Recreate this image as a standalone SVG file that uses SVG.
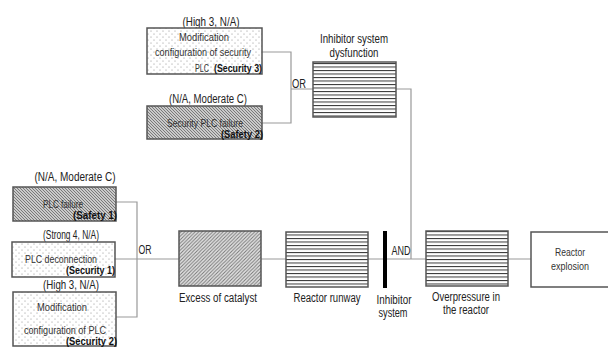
<svg xmlns="http://www.w3.org/2000/svg" width="608" height="347" viewBox="0 0 608 347">
<style>
text{font-family:"Liberation Sans",Arial,sans-serif}
.t{font-size:12px;fill:#222;text-anchor:middle}
.s{font-size:10.5px;fill:#333;text-anchor:middle}
.b{font-size:11.5px;font-weight:bold;fill:#111;text-anchor:start}
.box{stroke:#555;stroke-width:1.5}
.c{stroke:#999;stroke-width:1.2;fill:none}
</style>
<defs>
<pattern id="dots" width="6" height="6" patternUnits="userSpaceOnUse">
<rect width="6" height="6" fill="#fff"/>
<circle cx="1" cy="1" r="0.55" fill="#888"/>
<circle cx="4" cy="4" r="0.55" fill="#888"/>
</pattern>
<pattern id="back" width="3" height="3" patternUnits="userSpaceOnUse">
<rect width="3" height="3" fill="#cacaca"/>
<path d="M-1,-1 L4,4 M-1,2 L1,4 M2,-1 L4,1" stroke="#6a6a6a" stroke-width="0.85"/>
</pattern>
<pattern id="fwd" width="3.5" height="3.5" patternUnits="userSpaceOnUse">
<rect width="3.5" height="3.5" fill="#e4e4e4"/>
<path d="M-1,4.5 L4.5,-1 M-1,1 L1,-1 M2.5,4.5 L4.5,2.5" stroke="#777" stroke-width="1"/>
</pattern>
<pattern id="hl" width="10" height="3.5" patternUnits="userSpaceOnUse">
<rect width="10" height="3.5" fill="#fff"/>
<rect y="0" width="10" height="1" fill="#333"/>
</pattern>
</defs>

<g id="connectors">
<path class="c" d="M262,52 H291 V123 H262 M291,89 H313"/>
<path class="c" d="M396,89 H411 V259"/>
<path class="c" d="M116,202 H137 V317 H116 M115,259 H179"/>
<path class="c" d="M261,259 H286 M368,259 H426 M508,259 H531"/>
<text class="t" x="299" y="88" textLength="14" lengthAdjust="spacingAndGlyphs">OR</text>
<text class="t" x="145" y="254" textLength="13" lengthAdjust="spacingAndGlyphs">OR</text>
<text class="t" x="401" y="255" textLength="19" lengthAdjust="spacingAndGlyphs">AND</text>
</g>

<g id="mod-sec-plc">
<text class="t" x="211" y="26" textLength="57" lengthAdjust="spacingAndGlyphs">(High 3, N/A)</text>
<rect class="box" x="147" y="28" width="115" height="46" fill="url(#dots)"/>
<text class="s" x="204" y="41" textLength="50" lengthAdjust="spacingAndGlyphs">Modification</text>
<text class="s" x="203" y="56" textLength="96" lengthAdjust="spacingAndGlyphs">configuration of security</text>
<text class="s" x="202" y="72" textLength="14" lengthAdjust="spacingAndGlyphs">PLC</text>
<text class="b" x="214" y="72" textLength="48" lengthAdjust="spacingAndGlyphs">(Security 3)</text>
</g>

<g id="sec-plc-failure">
<text class="t" x="208" y="103" textLength="78" lengthAdjust="spacingAndGlyphs">(N/A, Moderate C)</text>
<rect class="box" x="147" y="106" width="115" height="33" fill="url(#back)"/>
<text class="s" x="205" y="127" textLength="76" lengthAdjust="spacingAndGlyphs">Security PLC failure</text>
<text class="b" x="221" y="138" textLength="42" lengthAdjust="spacingAndGlyphs">(Safety 2)</text>
</g>

<g id="inhibitor-dysfunction">
<text class="t" x="354" y="43" textLength="68" lengthAdjust="spacingAndGlyphs">Inhibitor system</text>
<text class="t" x="354" y="57" textLength="49" lengthAdjust="spacingAndGlyphs">dysfunction</text>
<rect class="box" x="313" y="62" width="83" height="55" fill="url(#hl)"/>
</g>

<g id="plc-failure">
<text class="t" x="75" y="181" textLength="81" lengthAdjust="spacingAndGlyphs">(N/A, Moderate C)</text>
<rect class="box" x="13" y="187" width="103" height="34" fill="url(#back)"/>
<text class="s" x="63" y="208" textLength="40" lengthAdjust="spacingAndGlyphs">PLC failure</text>
<text class="b" x="73" y="219" textLength="44" lengthAdjust="spacingAndGlyphs">(Safety 1)</text>
</g>

<g id="plc-deconnection">
<text class="t" x="71" y="239" textLength="56" lengthAdjust="spacingAndGlyphs">(Strong 4, N/A)</text>
<rect class="box" x="12" y="242" width="103" height="35" fill="url(#dots)"/>
<text class="s" x="61" y="263" textLength="72" lengthAdjust="spacingAndGlyphs">PLC deconnection</text>
<text class="b" x="66" y="274" textLength="49" lengthAdjust="spacingAndGlyphs">(Security 1)</text>
</g>

<g id="mod-plc">
<text class="t" x="71" y="289" textLength="56" lengthAdjust="spacingAndGlyphs">(High 3, N/A)</text>
<rect class="box" x="13" y="292" width="103" height="54" fill="url(#dots)"/>
<text class="s" x="62" y="311" textLength="50" lengthAdjust="spacingAndGlyphs">Modification</text>
<text class="s" x="65" y="334" textLength="82" lengthAdjust="spacingAndGlyphs">configuration of PLC</text>
<text class="b" x="66" y="345" textLength="51" lengthAdjust="spacingAndGlyphs">(Security 2)</text>
</g>

<g id="excess-catalyst">
<rect class="box" x="179" y="231" width="82" height="55" fill="url(#fwd)"/>
<text class="t" x="218" y="302" textLength="78" lengthAdjust="spacingAndGlyphs">Excess of catalyst</text>
</g>

<g id="reactor-runway">
<rect class="box" x="286" y="232" width="82" height="55" fill="url(#hl)"/>
<text class="t" x="327" y="302" textLength="67" lengthAdjust="spacingAndGlyphs">Reactor runway</text>
</g>

<g id="inhibitor-system">
<rect x="383" y="231" width="4" height="57" fill="#000"/>
<text class="t" x="394" y="304" textLength="35" lengthAdjust="spacingAndGlyphs">Inhibitor</text>
<text class="t" x="393" y="317" textLength="29" lengthAdjust="spacingAndGlyphs">system</text>
</g>

<g id="overpressure">
<rect class="box" x="426" y="231" width="82" height="55" fill="url(#hl)"/>
<text class="t" x="466" y="301" textLength="68" lengthAdjust="spacingAndGlyphs">Overpressure in</text>
<text class="t" x="466" y="314" textLength="46" lengthAdjust="spacingAndGlyphs">the reactor</text>
</g>

<g id="reactor-explosion">
<rect class="box" x="531" y="232" width="80" height="55" fill="#fff"/>
<text class="s" x="570" y="256" textLength="30" lengthAdjust="spacingAndGlyphs">Reactor</text>
<text class="s" x="570" y="270" textLength="38" lengthAdjust="spacingAndGlyphs">explosion</text>
</g>
</svg>
